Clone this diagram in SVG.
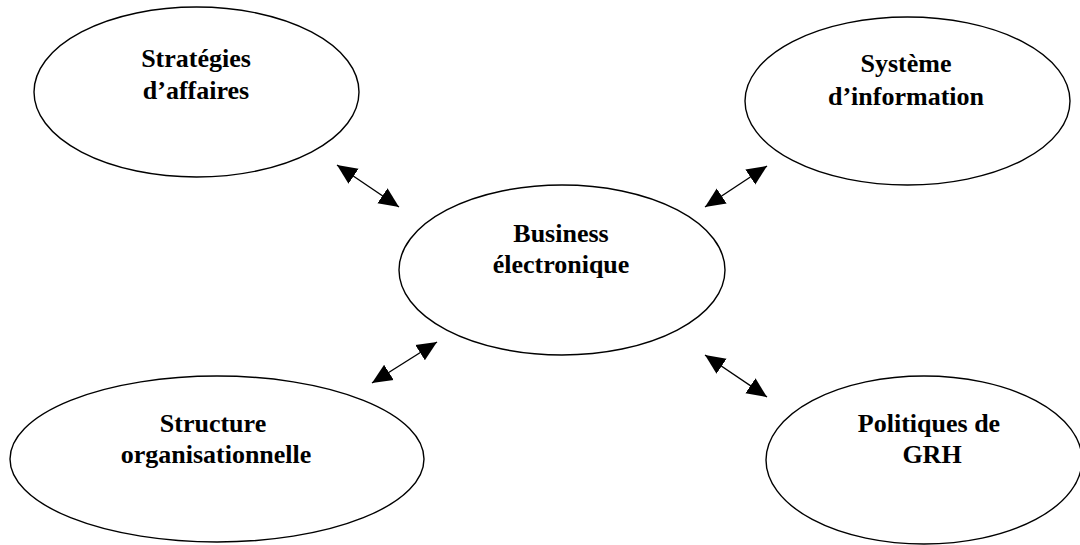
<svg xmlns="http://www.w3.org/2000/svg" width="1080" height="545" viewBox="0 0 1080 545">
<style>
.n{fill:#fff;stroke:#000;stroke-width:1.4}
.t{font-family:"Liberation Serif","Times New Roman",serif;font-weight:bold;font-size:26px;fill:#000;text-anchor:middle}
.c{stroke:#000;stroke-width:1.4;fill:none;marker-start:url(#ah);marker-end:url(#ah)}
</style>
<defs>
<marker id="ah" viewBox="0 0 20 20" refX="20" refY="10" markerWidth="20" markerHeight="20" markerUnits="userSpaceOnUse" orient="auto-start-reverse">
<path d="M0,1 L20,10 L0,19 z" fill="#000"/>
</marker>
</defs>
<rect width="1080" height="545" fill="#fff"/>
<g id="strategies">
<ellipse class="n" cx="196.5" cy="92" rx="162.5" ry="85"/>
<text class="t" x="196" y="67">Stratégies</text>
<text class="t" x="196" y="99">d’affaires</text>
</g>
<g id="systeme">
<ellipse class="n" cx="907.5" cy="101" rx="162.5" ry="84"/>
<text class="t" x="906" y="72">Système</text>
<text class="t" x="906" y="105">d’information</text>
</g>
<g id="business">
<ellipse class="n" cx="562" cy="270" rx="163" ry="85"/>
<text class="t" x="561" y="242">Business</text>
<text class="t" x="561" y="273">électronique</text>
</g>
<g id="structure">
<ellipse class="n" cx="217" cy="459" rx="207" ry="83"/>
<text class="t" x="213" y="432">Structure</text>
<text class="t" x="216" y="463">organisationnelle</text>
</g>
<g id="grh">
<ellipse class="n" cx="924" cy="460" rx="158" ry="84"/>
<text class="t" x="929" y="432">Politiques de</text>
<text class="t" x="932" y="463">GRH</text>
</g>
<g id="connectors">
<line class="c" x1="337" y1="165" x2="399" y2="207"/>
<line class="c" x1="705" y1="207" x2="767" y2="166"/>
<line class="c" x1="372" y1="383" x2="437" y2="342"/>
<line class="c" x1="705" y1="355" x2="767" y2="397"/>
</g>
</svg>
